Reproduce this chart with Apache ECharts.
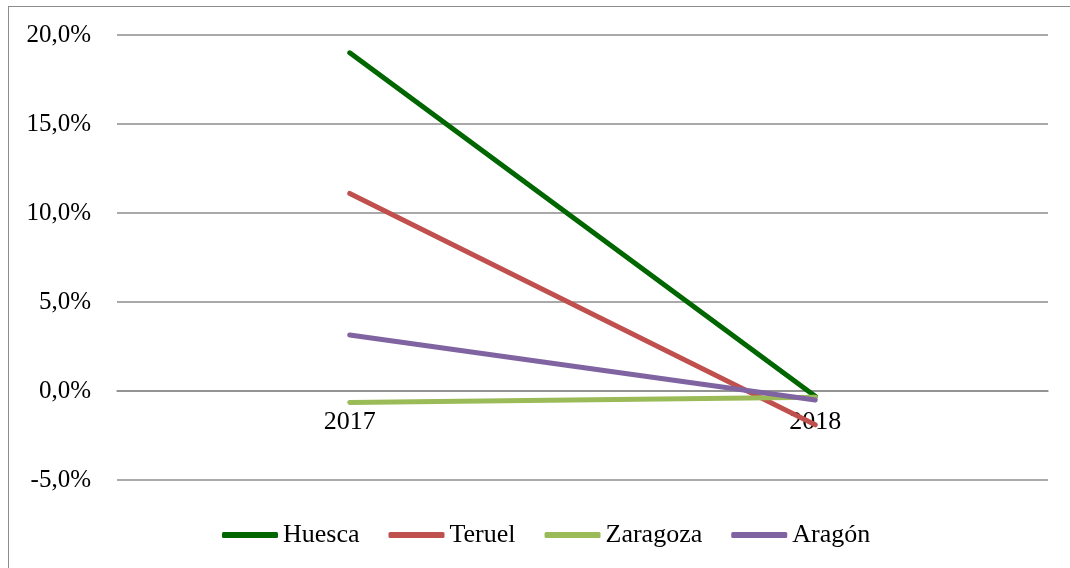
<!DOCTYPE html>
<html>
<head>
<meta charset="utf-8">
<script src="https://cdn.jsdelivr.net/npm/echarts@6/dist/echarts.min.js"></script>
<style>
  html, body { margin: 0; padding: 0; background: #fff; }
  #chart { position: absolute; left: 0; top: 0; width: 1070px; height: 568px; }
  #frame {
    position: absolute; left: 8px; top: 6px; width: 1100px; height: 600px;
    border-left: 1px solid #8c8c8c; border-top: 1px solid #8c8c8c;
    pointer-events: none;
  }
</style>
</head>
<body>
<div id="chart"></div>
<div id="frame"></div>
<script>
// datos (variación %)
const years = ["2017", "2018"]
const huesca = [19.0, -0.3]
const teruel = [11.1, -1.9]
const zaragoza = [-0.65, -0.35]
const aragon = [3.15, -0.5]
const names = ["Huesca", "Teruel", "Zaragoza", "Aragón"]
const colors = ["#006600", "#C0504D", "#9BBB59", "#8064A2"]

const font = "Liberation Serif"
const chart = echarts.init(document.getElementById("chart"))

const mkLine = (name, data, color) => ({
  name: name,
  type: "line",
  data: data,
  showSymbol: false,
  symbol: "none",
  lineStyle: { width: 5, color: color, cap: "round" },
  itemStyle: { color: color },
})

// eje x a la altura del 0: 5 unidades por encima del fondo del grid
const gridH = 568 - 35 - 88
const zeroOffset = -(gridH / 25) * 5

const option = {
  animation: false,
  textStyle: { fontFamily: font },
  grid: { left: 117, right: 22, top: 35, bottom: 88, containLabel: false },
  legend: {
    left: 222,
    top: 522,
    padding: 0,
    icon: "roundRect",
    itemWidth: 56,
    itemHeight: 6,
    itemGap: 29,
    textStyle: { fontFamily: font, fontSize: 26, color: "#000" },
    data: names,
  },
  xAxis: {
    type: "category",
    data: years,
    boundaryGap: true,
    offset: zeroOffset,
    axisLine: { show: true, onZero: false, lineStyle: { color: "#8c8c8c", width: 1.5 } },
    axisTick: { show: false },
    axisLabel: { fontFamily: font, fontSize: 26, color: "#000", margin: 18 },
    splitLine: { show: false },
  },
  yAxis: {
    type: "value",
    min: -5,
    max: 20,
    interval: 5,
    axisLine: { show: false },
    axisTick: { show: false },
    axisLabel: {
      fontFamily: font,
      fontSize: 25,
      color: "#000",
      margin: 26,
      formatter: (v) => v.toFixed(1).replace(".", ",") + "%",
    },
    splitLine: { lineStyle: { color: "#8c8c8c", width: 1.5 } },
  },
  series: [
    mkLine(names[0], huesca, colors[0]),
    mkLine(names[1], teruel, colors[1]),
    mkLine(names[2], zaragoza, colors[2]),
    mkLine(names[3], aragon, colors[3]),
  ],
}

chart.setOption(option)
</script>
</body>
</html>
